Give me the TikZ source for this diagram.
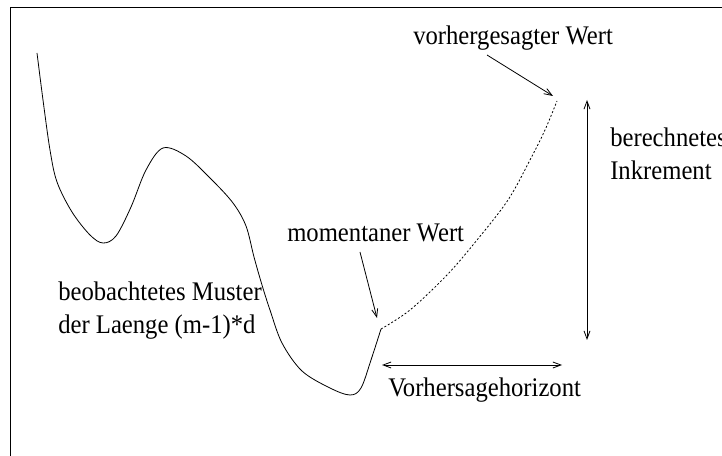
\documentclass[tikz,border=0pt]{standalone}
\usepackage{fontspec}
\usepackage{graphicx}
\setmainfont{Liberation Serif}
\usetikzlibrary{arrows.meta}
% slightly tall lettering, stacked lines share one baseline grid
\newcommand{\tallbox}[1]{\scalebox{1}[1.09]{\begin{tabular}[b]{@{}l@{}}#1\end{tabular}}}
\begin{document}
\begin{tikzpicture}[x=0.75pt,y=-0.75pt,
  lbl/.style={inner sep=0pt,anchor=base west,
    font=\fontsize{18.5}{23}\selectfont},
  thin line/.style={line width=0.6pt},
  pointer/.style={thin line,-{Straight Barb[length=6pt,width=4.5pt]}},
  span/.style={thin line,{Straight Barb[length=6pt,width=4.5pt]}-{Straight Barb[length=6pt,width=4.5pt]}}]
  \useasboundingbox (0,0) rectangle (722,456);

  % frame (only its top and left edges fall inside the page)
  \draw[line width=0.75pt] (722,7.5) -- (10.5,7.5) -- (10.5,456);

  % observed series and the predicted continuation
  \coordinate (cur) at (381,329);
  \coordinate (pred) at (557,101);
  \draw[thin line] plot[smooth,tension=0.55] coordinates {
    (37,53) (43,100) (50,150) (57,182) (72,212) (90,235) (103,243)
    (116,236) (131,207) (146,170) (163,148) (186,156) (211,179)
    (233,203) (246,226) (254,257) (262,285) (270,310) (282,343)
    (302,371) (330,388) (350,395) (361,388) (371,360) (cur)};
  \draw[thin line,dash pattern=on 1.5pt off 1.5pt] plot[smooth,tension=0.55] coordinates {
    (cur) (410,310) (447,275) (477,240) (508,200) (530,160) (545,130) (pred)};

  % labels
  \node[lbl] (vw) at (413,45) {\tallbox{vorhergesagter Wert}};
  \node[lbl] (inc) at (610,180) {\tallbox{berechnetes\\Inkrement}};
  \node[lbl] (mw) at (287,242) {\tallbox{momentaner Wert}};
  \node[lbl] (obs) at (58,334) {\tallbox{beobachtetes Muster\\der Laenge (m-1)*d}};
  \node[lbl] (hor) at (388,397) {\tallbox{Vorhersagehorizont}};

  % pointers
  \coordinate (vwtail) at (487,55);
  \coordinate (vwhead) at (553,96);
  \draw[pointer] (vwtail) -- (vwhead);
  \coordinate (mwtail) at (360,252);
  \coordinate (mwhead) at (377,318);
  \draw[pointer] (mwtail) -- (mwhead);

  % increment and horizon extents
  \coordinate (inctop) at (587,100);
  \coordinate (incbot) at (587,340);
  \draw[span] (inctop) -- (incbot);
  \coordinate (horl) at (382,365);
  \coordinate (horr) at (562,365);
  \draw[span] (horl) -- (horr);
\end{tikzpicture}
\end{document}
